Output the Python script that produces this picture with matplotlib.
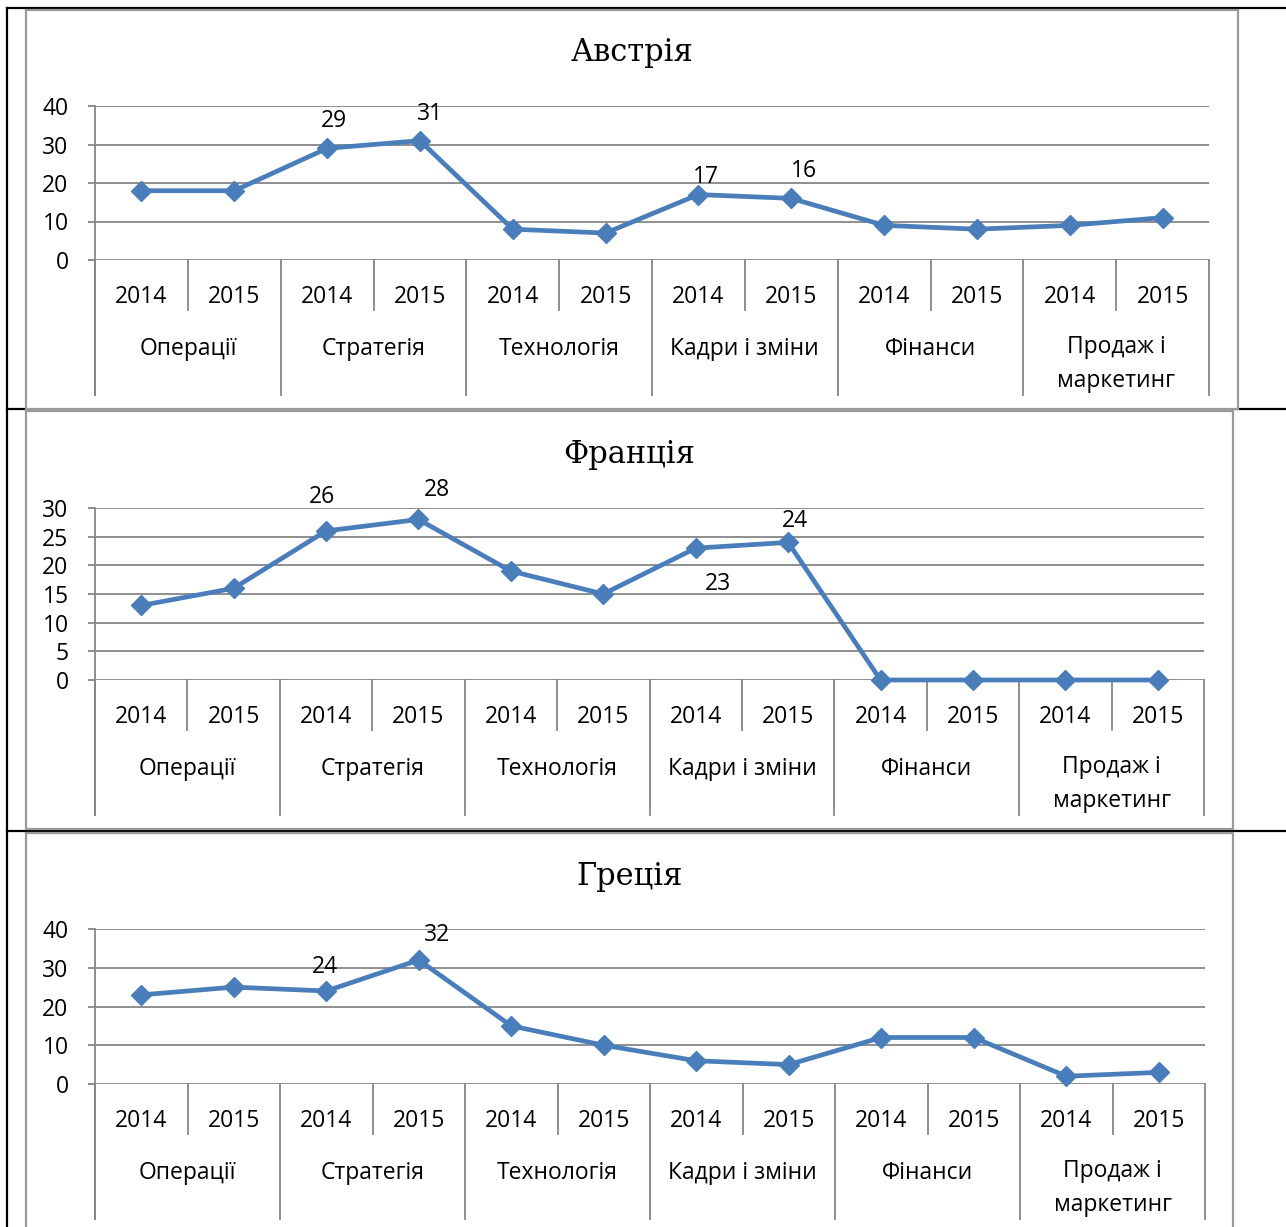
import matplotlib
matplotlib.use("Agg")
import matplotlib.pyplot as plt
import matplotlib.transforms as mtransforms
from matplotlib.lines import Line2D
from matplotlib.patches import Rectangle

W, H = 1286, 1227

years = ["2014", "2015"]
groups = ["Операції", "Стратегія", "Технологія", "Кадри і зміни", "Фінанси", "Продаж і\nмаркетинг"]

titles = ["Австрія", "Франція", "Греція"]
austria = [18, 18, 29, 31, 8, 7, 17, 16, 9, 8, 9, 11]
france = [13, 16, 26, 28, 19, 15, 23, 24, 0, 0, 0, 0]
greece = [23, 25, 24, 32, 15, 10, 6, 5, 12, 12, 2, 3]
series = [austria, france, greece]
ymax = [40, 30, 40]
ystep = [10, 5, 10]
# which points carry a value label, with label offset in pixels
labels = [
    {2: (7, 27), 3: (10, 27), 6: (8, 18), 7: (13, 27)},
    {2: (-4, 34), 3: (18, 29), 6: (22, -36), 7: (7, 21)},
    {2: (-1, 24), 3: (18, 25)},
]

# layout in pixels: plot left, right, top, bottom(zero line), frame box, title y
plots = [(95, 1209, 106, 260), (95, 1204, 508, 680), (95, 1205, 929, 1084)]
frames = [(26, 10, 1238, 409), (26, 411, 1233, 829), (26, 833, 1233, 1240)]
title_y = [52, 455, 876]

blue = "#4a7ebb"
grey = "#868686"
font = ["Open Sans", "DejaVu Sans"]
fs = 16.5

fig = plt.figure(figsize=(W / 100, H / 100), dpi=100)
px = mtransforms.Affine2D().scale(1 / W, -1 / H).translate(0, 1) + fig.transFigure

# page table lines
for y in [8, 409, 831]:
    fig.add_artist(Line2D([7, W], [y, y], transform=px, color="black", lw=1.6, zorder=-2))
fig.add_artist(Line2D([7, 7], [8, H], transform=px, color="black", lw=1.6, zorder=-2))

for k in range(3):
    fx0, fy0, fx1, fy1 = frames[k]
    fig.add_artist(Rectangle((fx0, fy1), fx1 - fx0, fy0 - fy1, transform=px,
                             facecolor="white", edgecolor="#9a9a9a", lw=1.6, zorder=-1))
    fig.text((fx0 + fx1) / 2 / W, 1 - title_y[k] / H, titles[k], ha="center", va="center",
             family="DejaVu Serif", fontsize=22)

    l, r, t, b = plots[k]
    ax = fig.add_axes([l / W, 1 - b / H, (r - l) / W, (b - t) / H])
    ax.set_facecolor("none")
    vals = series[k]
    xs = [i + 0.5 for i in range(len(vals))]
    ax.plot(xs, vals, color=blue, lw=3.4, marker="D", ms=10, zorder=3, clip_on=False)
    ax.set_xlim(0, 12)
    ax.set_ylim(0, ymax[k])
    ax.set_yticks(range(0, ymax[k] + 1, ystep[k]))
    ax.set_xticks([])
    ax.grid(axis="y", color=grey, lw=1.3)
    ax.set_axisbelow(True)
    for s in ["top", "right", "bottom", "left"]:
        ax.spines[s].set_visible(False)
    ax.tick_params(axis="y", length=5, width=1.3, color=grey, pad=14, labelsize=fs)
    for lab in ax.get_yticklabels():
        lab.set_family(font)

    blend = mtransforms.blended_transform_factory(ax.transData, px)
    ax.plot([0, 0], [t, b + 135], transform=blend, color=grey, lw=1.3, clip_on=False)
    for g in range(7):
        ax.plot([2 * g, 2 * g], [b, b + 135], transform=blend, color=grey, lw=1.3, clip_on=False)
    for g in range(6):
        ax.plot([2 * g + 1, 2 * g + 1], [b, b + 50], transform=blend, color=grey, lw=1.3, clip_on=False)
        for j in range(2):
            ax.text(2 * g + j + 0.5, b + 37, years[j], transform=blend, ha="center", va="center",
                    family=font, fontsize=fs)
        gy = b + 104 if "\n" in groups[g] else b + 89
        ax.text(2 * g + 1, gy, groups[g], transform=blend, ha="center", va="center",
                family=font, fontsize=fs, linespacing=1.55)

    for i, (dx, dy) in labels[k].items():
        ax.annotate(str(vals[i]), (xs[i], vals[i]), xytext=(dx, dy), textcoords="offset pixels",
                    ha="center", va="center", family=font, fontsize=fs, annotation_clip=False)

fig.savefig("out.png", dpi=100)
